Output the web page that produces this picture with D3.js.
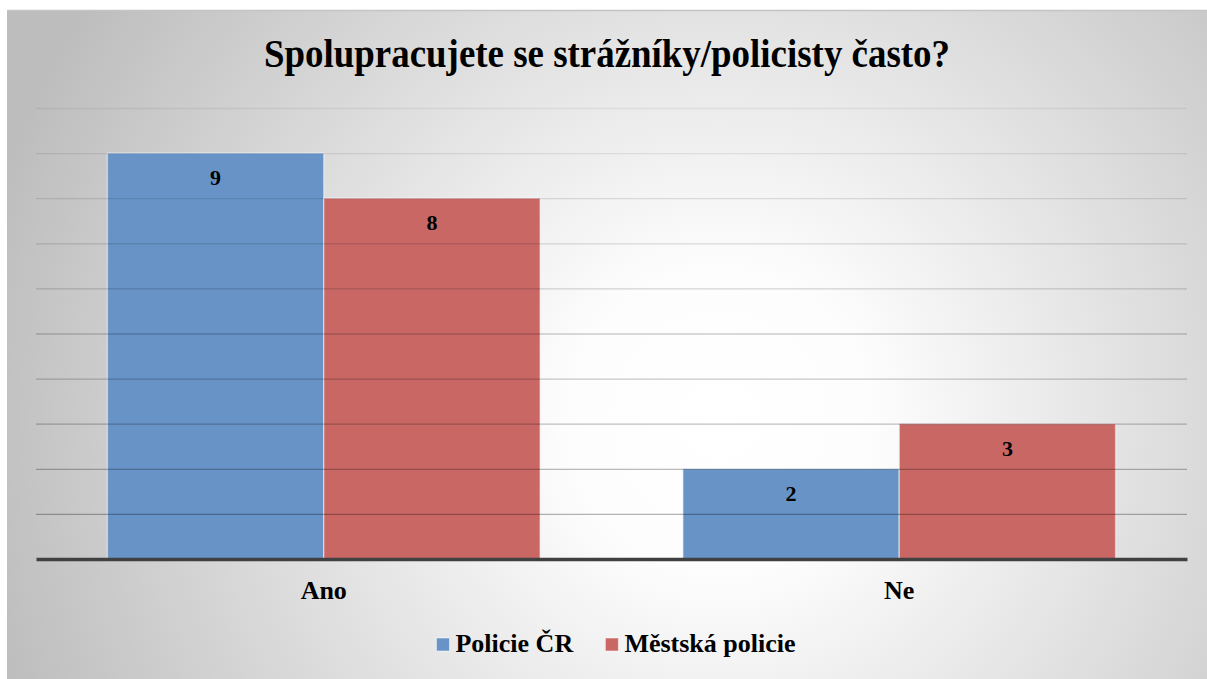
<!DOCTYPE html>
<html>
<head>
<meta charset="utf-8">
<script src="https://cdn.jsdelivr.net/npm/d3@7"></script>
<style>
  html, body { margin: 0; padding: 0; background: #fff; }
  svg { display: block; }
</style>
</head>
<body>
<div id="chart"></div>
<script>
const categories = ["Ano", "Ne"];
const seriesNames = ["Policie ČR", "Městská policie"];
const policieCR = [9, 2];
const mestskaPolicie = [8, 3];
const yTicks = [1, 2, 3, 4, 5, 6, 7, 8, 9, 10];
const colors = ["#6793c7", "#c96765"];

const FONT = "Liberation Serif";
const W = 1207, H = 679;
const margin = { top: 108, right: 20, bottom: 120, left: 36 };

const svg = d3.select("#chart").append("svg")
  .attr("width", W).attr("height", H)
  .attr("font-family", FONT);

const defs = svg.append("defs");
const bg = defs.append("radialGradient")
  .attr("id", "bg")
  .attr("gradientUnits", "userSpaceOnUse")
  .attr("cx", 720).attr("cy", 420).attr("r", 760);
bg.append("stop").attr("offset", 0).attr("stop-color", "#ffffff");
bg.append("stop").attr("offset", 0.2).attr("stop-color", "#fdfdfd");
bg.append("stop").attr("offset", 1).attr("stop-color", "#bdbdbd");

// grid lines get darker toward the bottom
const gg = defs.append("linearGradient")
  .attr("id", "grid")
  .attr("gradientUnits", "userSpaceOnUse")
  .attr("x1", 0).attr("y1", 108).attr("x2", 0).attr("y2", 559);
gg.append("stop").attr("offset", 0).attr("stop-color", "#000").attr("stop-opacity", 0.06);
gg.append("stop").attr("offset", 1).attr("stop-color", "#000").attr("stop-opacity", 0.32);

// chart area background
svg.append("rect")
  .attr("x", 7).attr("y", 10)
  .attr("width", W - 7).attr("height", H - 10)
  .attr("fill", "url(#bg)");
svg.append("line")
  .attr("x1", 7).attr("x2", W).attr("y1", 10.5).attr("y2", 10.5)
  .attr("stroke", "#c4c4c4").attr("stroke-width", 1.5);

const x = d3.scaleBand()
  .domain(categories)
  .range([margin.left, W - margin.right]);

const xs = d3.scaleBand()
  .domain(seriesNames)
  .range([0, x.bandwidth()])
  .paddingOuter(0.33);

const y = d3.scaleLinear()
  .domain([0, 10])
  .range([H - margin.bottom, margin.top]);

// title
svg.append("text")
  .attr("x", 607).attr("y", 67)
  .attr("text-anchor", "middle")
  .attr("font-family", FONT)
  .attr("font-size", 40).attr("font-weight", "bold")
  .attr("textLength", 686).attr("lengthAdjust", "spacingAndGlyphs")
  .text("Spolupracujete se strážníky/policisty často?");

// bars
const rows = categories.map((c, i) => ({
  cat: c,
  vals: [
    { s: seriesNames[0], v: policieCR[i], c: colors[0] },
    { s: seriesNames[1], v: mestskaPolicie[i], c: colors[1] }
  ]
}));

const groups = svg.append("g").selectAll("g")
  .data(rows).enter().append("g")
  .attr("transform", d => `translate(${x(d.cat)},0)`);

groups.selectAll("rect")
  .data(d => d.vals).enter().append("rect")
  .attr("x", d => xs(d.s))
  .attr("y", d => y(d.v))
  .attr("width", xs.bandwidth())
  .attr("height", d => y(0) - y(d.v))
  .attr("fill", d => d.c)
  .attr("stroke", "rgba(255,255,255,0.45)")
  .attr("stroke-width", 1.5);

// gridlines over the bars (they show through in the original)
svg.append("g").selectAll("line")
  .data(yTicks).enter().append("line")
  .attr("x1", margin.left).attr("x2", W - margin.right)
  .attr("y1", d => y(d) + 0.5).attr("y2", d => y(d) + 0.5)
  .attr("stroke", "url(#grid)").attr("stroke-width", 1.3);

// value labels
groups.selectAll("text")
  .data(d => d.vals).enter().append("text")
  .attr("x", d => xs(d.s) + xs.bandwidth() / 2)
  .attr("y", d => y(d.v) + 32)
  .attr("text-anchor", "middle")
  .attr("font-family", FONT)
  .attr("font-size", 22).attr("font-weight", "bold")
  .text(d => d.v);

// baseline / x axis
const xAxis = svg.append("g")
  .attr("transform", `translate(0,${y(0)})`)
  .call(d3.axisBottom(x).tickSize(0).tickPadding(40));
xAxis.attr("font-family", FONT);
xAxis.select(".domain").attr("stroke", "#404040").attr("stroke-width", 3.5);
xAxis.selectAll("text")
  .attr("font-family", FONT)
  .attr("font-size", 26).attr("font-weight", "bold")
  .attr("fill", "#000")
  .attr("dy", 0).attr("y", 40);

// legend
const legend = svg.append("g");
const items = legend.selectAll("g").data(seriesNames).enter().append("g");
items.append("rect")
  .attr("width", 13).attr("height", 13)
  .attr("y", -14)
  .attr("fill", (d, i) => colors[i])
  .attr("stroke", "rgba(255,255,255,0.5)");
items.append("text")
  .attr("x", 19)
  .attr("font-family", FONT)
  .attr("font-size", 26).attr("font-weight", "bold")
  .text(d => d);
let cx = 0;
const gap = 32;
items.each(function () {
  const w = this.getBBox().width;
  d3.select(this).attr("transform", `translate(${cx},0)`);
  cx += w + gap;
});
const totalW = cx - gap;
legend.attr("transform", `translate(${616 - totalW / 2},652)`);
</script>
</body>
</html>
